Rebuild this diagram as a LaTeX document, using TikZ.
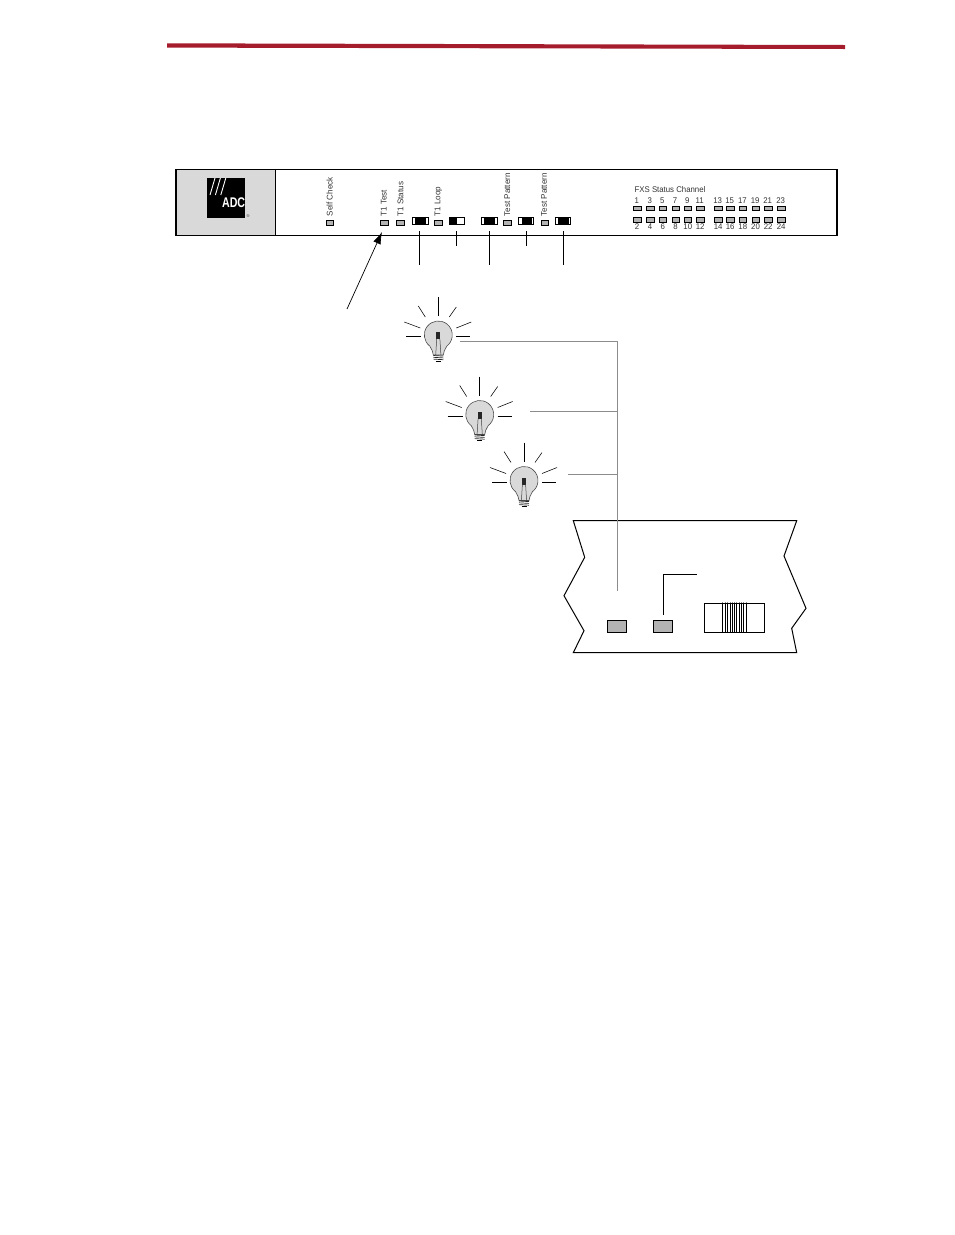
\documentclass[tikz,border=0pt]{standalone}
\usepackage{fontspec}
\setmainfont{Liberation Sans}
\usetikzlibrary{arrows.meta}
\definecolor{rulered}{HTML}{A51C2D}
\definecolor{ledgrey}{HTML}{B3B3B3}
\definecolor{logogrey}{HTML}{D9D9D9}
\definecolor{wiregrey}{HTML}{8C8C8C}
\definecolor{txtgrey}{HTML}{333333}
\tikzset{
  x=1pt,y=-1pt,
  panelline/.style={draw=black,line width=1.15pt},
  led/.style={draw=black,fill=ledgrey,line width=.8pt,minimum width=7.6pt,minimum height=5pt,inner sep=0pt,outer sep=0pt},
  bigled/.style={draw=black,fill=ledgrey,line width=.8pt,minimum width=19pt,minimum height=12pt,inner sep=0pt,outer sep=0pt},
  vlabel/.style={rotate=90,anchor=west,font=\fontsize{8.3}{9}\selectfont,text=txtgrey,inner sep=0pt,xscale=.97},
  numlabel/.style={font=\fontsize{8.3}{9}\selectfont,text=txtgrey,inner sep=0pt,xscale=.94},
  leader/.style={draw=black,line width=.7pt},
  wire/.style={draw=wiregrey,line width=.85pt},
  ray/.style={draw=black,line width=.55pt},
  bulb/.pic={
    \draw[draw=black!70,fill=logogrey,line width=.6pt]
      (-5,20) .. controls (-5,17) and (-6.5,15) .. (-8.5,11.1)
      arc[start angle=127.4,end angle=412.6,radius=14]
      .. controls (6.5,15) and (5,17) .. (5,20) -- cycle;
    \fill[black!85] (-2,-3) rectangle (2,4);
    \draw[black!75,line width=.5pt] (-1.6,4) -- (-2.6,20) (1.6,4) -- (2.6,20);
    \foreach \ty in {20.5,22.3,24.1}{\draw[black!85,line width=.7pt] (-5,\ty) -- (5,\ty+.6);}
    \draw[black,line width=.9pt] (-2.5,26) -- (2.5,26);
    \foreach \ax/\ay/\bx/\by in {0/-38/0/-19,-20/-29/-13/-18,18/-28/11/-18,-34/-13/-18/-7,33/-13/18/-7,-32/1.5/-17/1.5,18/1.5/32/1.5}{
      \draw[ray] (\ax,\ay) -- (\bx,\by);}
  }
}
\begin{document}
\begin{tikzpicture}
\useasboundingbox (0,0) rectangle (954,1235);
% top rule
\fill[rulered] (167,43.3) -- (845,45) -- (845,49) -- (167,47.6) -- cycle;
% panel
\fill[logogrey] (176,169.6) rectangle (275.5,235.5);
\draw[panelline] (176,169.6) rectangle (837,235.5);
\draw[panelline] (275.5,169.6) -- (275.5,235.5);
% logo
\node[fill=black,minimum width=38pt,minimum height=39.5pt,inner sep=0pt] (logo) at (226,198) {};
\foreach \i in {0,1,2}{\draw[white,line width=.9pt] (210+5.4*\i,195) -- (215+5.4*\i,178);}
\node[text=white,font=\bfseries\fontsize{14}{14}\selectfont,inner sep=0pt,xscale=.76,anchor=east] (adc) at (245.3,203) {ADC};
\node[font=\fontsize{4}{4}\selectfont,inner sep=0pt,text=txtgrey] (reg) at (248,216) {®};
% LEDs
\node[led] (selfcheck) at (330,223) {};
\node[led] (t1test) at (384.3,223) {};
\node[led] (t1status) at (400.5,223) {};
\node[led] (t1loop) at (438.5,223) {};
\node[led] (pattern1) at (507.5,223) {};
\node[led] (pattern2) at (545,223) {};
% panel labels
\node[vlabel] (lselfcheck) at (329.7,216.5) {Self Check};
\node[vlabel] (lt1test) at (383.8,216.5) {T1 Test};
\node[vlabel] (lt1status) at (400.5,216.5) {T1 Status};
\node[vlabel] (lt1loop) at (438.3,216.5) {T1 Loop};
\node[vlabel] (lpat1) at (507.3,216.5) {Test Pattern};
\node[vlabel] (lpat2) at (544,216.5) {Test Pattern};
% switches
\foreach \n/\sx/\sw/\bl/\br in {a/412.3/15.7/415/426,c/481/16.7/484/495,d/518.3/15.4/521.5/532,e/555.3/15.4/558/569}{
  \node[draw=black,fill=white,line width=.8pt,minimum width=\sw pt,minimum height=7.2pt,inner sep=0pt,outer sep=0pt,anchor=west] (sw\n) at (\sx,221) {};
  \fill[black] (\bl,217.5) rectangle (\br,224.5);
}
\node[draw=black,fill=white,line width=.8pt,minimum width=15.4pt,minimum height=7.2pt,inner sep=0pt,outer sep=0pt,anchor=west] (swb) at (449.3,221) {};
\fill[black] (449.3,217.5) rectangle (457,224.5);
% leaders from switches
\coordinate (la) at (419.3,264.7); \coordinate (lb) at (456.3,245.7); \coordinate (lc) at (489.3,264.7);
\coordinate (ld) at (526.3,245.7); \coordinate (le) at (563.3,264.7);
\foreach \n/\lx in {a/419.3,b/456.3,c/489.3,d/526.3,e/563.3}{
  \coordinate (top\n) at (\lx,231);
  \draw[leader] (top\n) -- (l\n);
}
% arrow
\coordinate (arrowfoot) at (347,309);
\coordinate (arrowtip) at (382,232);
\draw[leader,-{Latex[length=12pt,width=8pt]}] (arrowfoot) -- (arrowtip);
% FXS
\node[numlabel,anchor=west] (fxstitle) at (634.5,189.3) {FXS Status Channel};
\foreach \i/\fx/\tn/\bn in {1/637.3/1/2,2/650.3/3/4,3/663/5/6,4/675.7/7/8,5/688/9/10,6/700.3/11/12,7/718.3/13/14,8/730.3/15/16,9/743/17/18,10/755.7/19/20,11/768.3/21/22,12/781.3/23/24}{
  \node[led,minimum height=4.4pt] (ft\i) at (\fx,208.4) {};
  \node[led,minimum height=4.6pt] (fb\i) at (\fx,219.7) {};
  \node[numlabel] (nt\i) at (\fx-.6,200.8) {\tn};
  \node[numlabel] (nb\i) at (\fx-.2,227) {\bn};
}
% wires
\coordinate (w1) at (460,341); \coordinate (w2) at (530,411); \coordinate (w3) at (568,474);
\coordinate (j1) at (617,341); \coordinate (j2) at (617,411); \coordinate (j3) at (617,474);
\coordinate (wend) at (617,591);
% card
\draw[draw=black,fill=white,line width=1pt]
  (573.3,520.7) -- (796.7,520.7) -- (784,556) -- (806,608.3) -- (791.7,628.3) -- (796.7,652.7)
  -- (573.3,652.7) -- (584,630.7) -- (564,595.7) -- (584.7,557.3) -- cycle;
\draw[wire] (w1) -- (j1) -- (wend);
\draw[wire] (w2) -- (j2);
\draw[wire] (w3) -- (j3);
% bulbs
\pic at (438.3,335) {bulb};
\pic at (479.7,414.5) {bulb};
\pic at (524,480.5) {bulb};
% card parts
\node[bigled] (cardled1) at (617,626.3) {};
\node[bigled] (cardled2) at (663,626.3) {};
\coordinate (cardtop) at (663.3,614.7);
\coordinate (cardbend) at (663.3,574.3);
\coordinate (cardend) at (696.7,574.3);
\draw[leader] (cardtop) -- (cardbend) -- (cardend);
\node[draw=black,fill=white,line width=.8pt,minimum width=60pt,minimum height=29pt,inner sep=0pt,outer sep=0pt] (cardswitch) at (734.3,617.8) {};
\foreach \sxx in {722.7,725.4,727.6,730,732.2,734.4,736.6,738.8,741.2,743.5,746.7}{
  \draw[black,line width=.55pt] (\sxx,603.3) -- (\sxx,632.3);
  \draw[wiregrey,line width=.5pt] (\sxx,602) -- (\sxx,603.3);
}
\end{tikzpicture}
\end{document}
